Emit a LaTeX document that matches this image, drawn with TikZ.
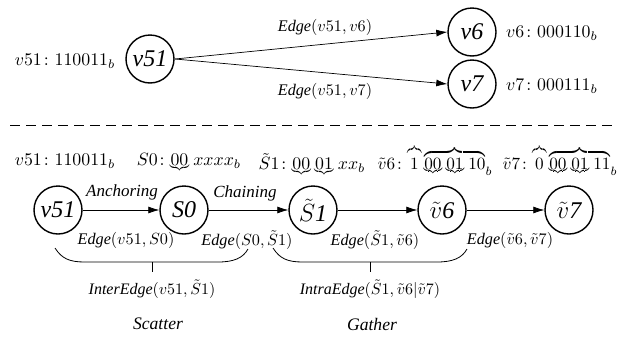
\documentclass[tikz,border=0pt]{standalone}
\usepackage{amsmath}
\usepackage{fontspec}
\setmainfont{Liberation Serif}
\usetikzlibrary{arrows.meta}
\newcommand\tob[1]{\overset{\scalebox{0.45}[0.8]{$\overbrace{\hphantom{00}}$}}{#1}}
\newsavebox\ubx
\newcommand\ub[1]{\sbox\ubx{$#1$}\vtop{\offinterlineskip\hbox{\usebox\ubx}\kern-1pt\hbox to\wd\ubx{\hss\scalebox{0.55}[0.6]{$\underbrace{\hphantom{0000}}$}\hss}}}
\newcommand\sm[2][1.62]{\scalebox{#1}{$#2$}}
\begin{document}
\begin{tikzpicture}[x=1pt,y=-1pt,
  vtx/.style={circle,draw,line width=1.4pt,minimum size=48pt,inner sep=0pt,font=\fontsize{24}{24}\selectfont\itshape},
  arr/.style={-{Latex[length=11pt,width=7pt]},line width=0.7pt},
  lbl/.style={inner sep=1pt},
  ital/.style={font=\fontsize{17}{19}\selectfont\itshape},
  captxt/.style={font=\fontsize{17.6}{19}\selectfont\itshape},
  brc/.style={line width=0.8pt}]
\useasboundingbox (0,0) rectangle (627,338);
% top
\node[vtx] (a) at (150,59) {v51};
\node[vtx] (b) at (472,32) {v6};
\node[vtx] (c) at (472,84) {v7};
\node[lbl] (ta) at (65,61) {\sm[1.78]{v51\colon 110011_b}};
\node[lbl,anchor=west] (tb) at (505,33) {\sm[1.78]{v6\colon 000110_b}};
\node[lbl,anchor=west] (tc) at (505,86) {\sm[1.78]{v7\colon 000111_b}};
\coordinate (ao) at (175,59);
\draw[arr] (ao) -- (b.west);
\draw[arr] (ao) -- (c.west);
\node[lbl] (eb) at (325,27) {\sm{\mathit{Edge}(v51,v6)}};
\node[lbl] (ec) at (325,91) {\sm{\mathit{Edge}(v51,v7)}};
% dashed separator
\coordinate (d1) at (10,125);
\coordinate (d2) at (617,125);
\draw[dash pattern=on 10pt off 6pt,line width=0.8pt] (d1) -- (d2);
% bottom
\node[vtx] (p) at (58,210) {v51};
\node[vtx] (q) at (184,210) {S0};
\node[vtx] (r) at (313,210) {$\tilde{S}$1};
\node[vtx] (s) at (442,210) {$\tilde{v}$6};
\node[vtx] (t) at (569,210) {$\tilde{v}$7};
\node[lbl] (tp) at (65,161) {\sm[1.78]{v51\colon 110011_b}};
\node[lbl,anchor=north] (tq) at (189,152) {\sm[1.78]{S0\colon \ub{00}\;xxxx_b}};
\node[lbl,anchor=north] (tr) at (312,152) {\sm[1.78]{\tilde{S}1\colon \ub{00}\;\ub{01}\;xx_b}};
\node[lbl,anchor=north] (ts) at (435,142) {\sm[1.72]{\tilde{v}6\colon \tob{1}\,{\overbrace{\ub{00}\;\ub{01}\;10}}_b}};
\node[lbl,anchor=north] (tt) at (560,142) {\sm[1.72]{\tilde{v}7\colon \tob{0}\,{\overbrace{\ub{00}\;\ub{01}\;11}}_b}};
\draw[arr] (p) -- (q);
\draw[arr] (q) -- (r);
\draw[arr] (r) -- (s);
\draw[arr] (s) -- (t);
\node[ital] (an) at (122,192) {Anchoring};
\node[ital] (ch) at (245,193) {Chaining};
\node[lbl] (e1) at (126,240) {\sm{\mathit{Edge}(v51,S0)}};
\node[lbl] (e2) at (247,240) {\sm{\mathit{Edge}(S0,\tilde{S}1)}};
\node[lbl] (e3) at (375,240) {\sm{\mathit{Edge}(\tilde{S}1,\tilde{v}6)}};
\node[lbl] (e4) at (510,240) {\sm{\mathit{Edge}(\tilde{v}6,\tilde{v}7)}};
% braces
\draw[brc] (55,248) .. controls (62,259) and (70,262) .. (85,262) -- (218,262) .. controls (234,262) and (243,258) .. (248,249);
\draw[brc] (152,262) -- (152,272);
\draw[brc] (273,248) .. controls (280,259) and (288,262) .. (303,262) -- (437,262) .. controls (453,262) and (462,258) .. (467,249);
\draw[brc] (370,262) -- (370,272);
\node[lbl] (ie) at (152,289) {\sm[1.6]{\mathit{InterEdge}(v51,\tilde{S}1)}};
\node[lbl] (ia) at (370,289) {\sm[1.6]{\mathit{IntraEdge}(\tilde{S}1,\tilde{v}6|\tilde{v}7)}};
\node[captxt] (sc) at (158,324) {Scatter};
\node[captxt] (ga) at (372,324) {Gather};
\end{tikzpicture}
\end{document}
